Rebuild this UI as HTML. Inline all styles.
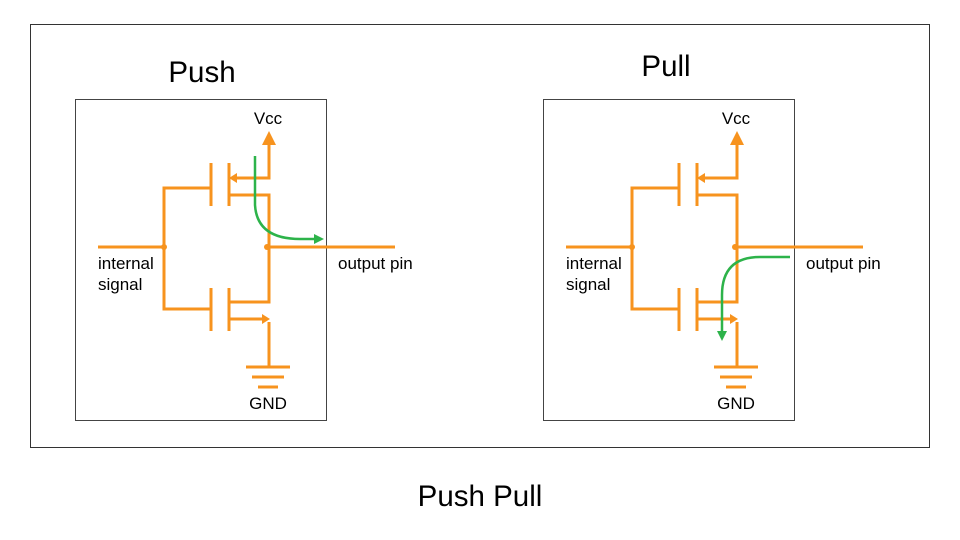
<!DOCTYPE html>
<html><head><meta charset="utf-8"><style>
html,body{margin:0;padding:0;background:#fff;}
svg{display:block;font-family:"Liberation Sans",Arial,sans-serif;}
</style></head><body>
<svg width="960" height="540" viewBox="0 0 960 540" xmlns="http://www.w3.org/2000/svg">
<rect x="0" y="0" width="960" height="540" fill="#fff"/>
<rect x="30.5" y="24.5" width="899" height="423" fill="none" stroke="#333" stroke-width="1"/>
<text x="202" y="82" font-size="29.5" text-anchor="middle" fill="#000">Push</text>
<text x="666" y="76" font-size="29.5" text-anchor="middle" fill="#000">Pull</text>
<text x="480" y="506" font-size="29.5" text-anchor="middle" fill="#000">Push Pull</text>

<defs>
<g id="ckt">
  <rect x="75.5" y="99.5" width="251" height="321" fill="none" stroke="#444" stroke-width="1"/>
  <g stroke="#F7931E" stroke-width="3" fill="none">
    <line x1="98" y1="247" x2="164" y2="247"/>
    <polyline points="210,188 164,188 164,309 210,309"/>
    <line x1="211" y1="163" x2="211" y2="206"/>
    <line x1="229" y1="163" x2="229" y2="206"/>
    <line x1="211" y1="288" x2="211" y2="331"/>
    <line x1="229" y1="288" x2="229" y2="331"/>
    <polyline points="236,178 269,178 269,142"/>
    <polyline points="229,195 269,195 269,302 229,302"/>
    <polyline points="229,319 262,319"/>
    <polyline points="269,322 269,367"/>
    <line x1="267" y1="247" x2="395" y2="247"/>
    <line x1="246" y1="367" x2="290" y2="367"/>
    <line x1="252" y1="377" x2="284" y2="377"/>
    <line x1="258" y1="387" x2="278" y2="387"/>
  </g>
  <g fill="#F7931E">
    <polygon points="269,131 262,145 276,145"/>
    <polygon points="229,178 237,173 237,183"/>
    <polygon points="270,319 262,314 262,324"/>
    <circle cx="164" cy="247" r="3"/>
    <circle cx="267" cy="247" r="3"/>
  </g>
  <text x="268" y="124" font-size="17" text-anchor="middle" fill="#000">Vcc</text>
  <text x="268" y="409" font-size="17" text-anchor="middle" fill="#000">GND</text>
  <text x="98" y="269" font-size="17" fill="#000">internal</text>
  <text x="98" y="290" font-size="17" fill="#000">signal</text>
  <text x="338" y="269" font-size="17" fill="#000">output pin</text>
</g>
</defs>
<use href="#ckt"/>
<use href="#ckt" x="468"/>

<g stroke="#2DB34A" stroke-width="2.5" fill="none">
  <path d="M255,156 L255,205 Q257,239 300,239 L316,239"/>
  <path d="M790,257 L760,257 Q722,257 722,295 L722,333"/>
</g>
<g fill="#2DB34A">
  <polygon points="324,239 314,234 314,244"/>
  <polygon points="722,341 717,331 727,331"/>
</g>
</svg>
</body></html>
